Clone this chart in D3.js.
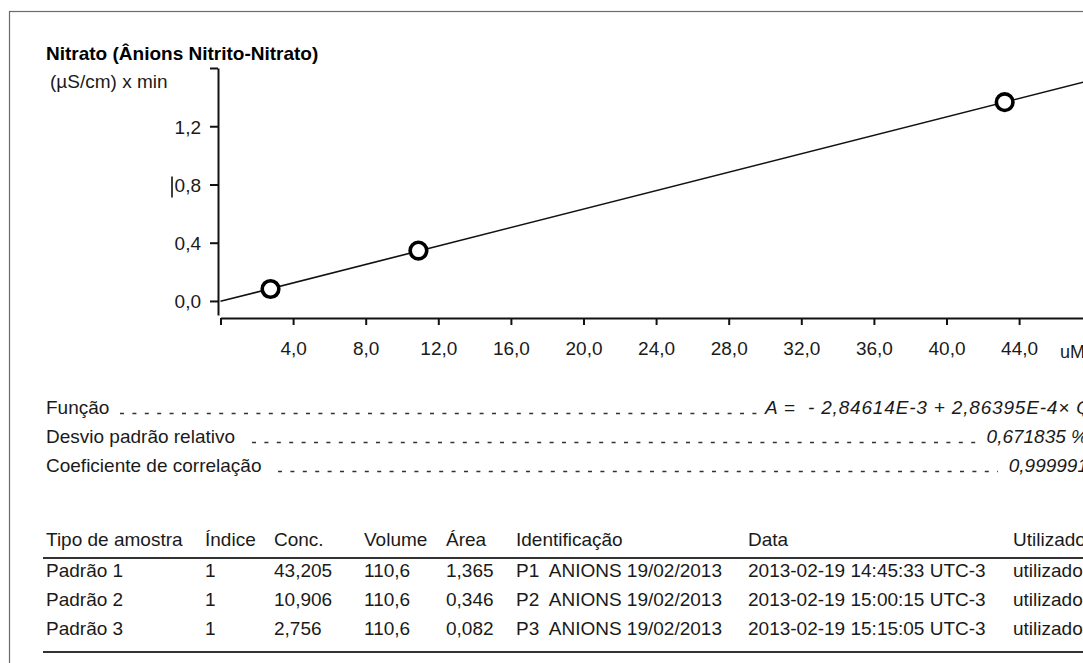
<!DOCTYPE html>
<html>
<head>
<meta charset="utf-8">
<script src="https://cdn.jsdelivr.net/npm/d3@7/dist/d3.min.js"></script>
<style>
  html, body { margin: 0; padding: 0; background: #fff; overflow: hidden; }
  svg { display: block; }
  text { font-family: "Liberation Sans", Arial, Helvetica, sans-serif; fill: #1a1a1a; white-space: pre; }
</style>
</head>
<body>
<svg id="chart" width="1083" height="663"></svg>
<script>
// Calibration standards for nitrate (concentration in uM, peak area in (µS/cm) x min)
const standards = ["Padrão 1", "Padrão 2", "Padrão 3"];
const sampleIndex = [1, 1, 1];
const concentration = [43.205, 10.906, 2.756];
const volume = [110.6, 110.6, 110.6];
const area = [1.365, 0.346, 0.082];
const identification = ["P1  ANIONS 19/02/2013", "P2  ANIONS 19/02/2013", "P3  ANIONS 19/02/2013"];
const timestamps = ["2013-02-19 14:45:33 UTC-3", "2013-02-19 15:00:15 UTC-3", "2013-02-19 15:15:05 UTC-3"];
const usage = ["utilizado", "utilizado", "utilizado"];
const tableHeaders = ["Tipo de amostra", "Índice", "Conc.", "Volume", "Área", "Identificação", "Data", "Utilizado"];

// Axis ticks
const xTicks = [0, 4, 8, 12, 16, 20, 24, 28, 32, 36, 40, 44, 48];
const xTickLabels = ["", "4,0", "8,0", "12,0", "16,0", "20,0", "24,0", "28,0", "32,0", "36,0", "40,0", "44,0", ""];
const yTicks = [0, 0.4, 0.8, 1.2, 1.6];
const yTickLabels = ["0,0", "0,4", "0,8", "1,2", ""];

// Calibration summary
const statLabels = ["Função", "Desvio padrão relativo", "Coeficiente de correlação"];
const statValues = ["A =  - 2,84614E-3 + 2,86395E-4× Q", "0,671835 %", "0,999991"];

const title = "Nitrato (Ânions Nitrito-Nitrato)";
const yUnit = "(µS/cm) x min";
const xUnit = "uM";

const FS = 19;
const svg = d3.select("#chart");

// outer frame
svg.append("rect")
  .attr("x", 9.5).attr("y", 11.5).attr("width", 1200).attr("height", 800)
  .attr("fill", "none").attr("stroke", "#6a6a6a").attr("stroke-width", 1.2);

// scales
const x = d3.scaleLinear().domain([0, 48]).range([220.5, 220.5 + 48 * 18.15]);
const y = d3.scaleLinear().domain([-0.0965, 1.6]).range([315, 68]);

// titles
svg.append("text").attr("x", 46).attr("y", 60)
  .style("font-size", FS + "px").style("font-weight", "bold").style("fill", "#000")
  .text(title);
svg.append("text").attr("x", 50).attr("y", 88)
  .style("font-size", FS + "px").text(yUnit);

// y axis
const yAxis = svg.append("g").attr("transform", "translate(218,0)")
  .call(d3.axisLeft(y).tickValues(yTicks).tickFormat((d, i) => yTickLabels[i])
    .tickSize(8).tickSizeOuter(0));
yAxis.select(".domain").attr("stroke", "#111").attr("stroke-width", 2);
yAxis.selectAll(".tick line").attr("stroke", "#111").attr("stroke-width", 2);
yAxis.selectAll(".tick text")
  .attr("x", -17).attr("dy", "0.36em")
  .attr("font-family", null).attr("font-size", null)
  .style("font-size", FS + "px").style("fill", "#1a1a1a");

// text caret beside the 0,8 label
svg.append("line")
  .attr("x1", 172).attr("x2", 172)
  .attr("y1", y(0.8) - 8).attr("y2", y(0.8) + 13)
  .attr("stroke", "#000").attr("stroke-width", 1.5);

// x axis
const xAxis = svg.append("g").attr("transform", "translate(0,318)")
  .call(d3.axisBottom(x).tickValues(xTicks).tickFormat((d, i) => xTickLabels[i])
    .tickSize(7).tickSizeOuter(0));
xAxis.select(".domain").attr("stroke", "#111").attr("stroke-width", 2);
xAxis.selectAll(".tick line").attr("stroke", "#111").attr("stroke-width", 2);
xAxis.selectAll(".tick text")
  .attr("y", 37).attr("dy", 0)
  .attr("font-family", null).attr("font-size", null)
  .style("font-size", FS + "px").style("fill", "#1a1a1a");

svg.append("text").attr("x", 1060).attr("y", 358)
  .style("font-size", (FS - 1) + "px").text(xUnit);

// least-squares calibration line through the standards
const mx = d3.mean(concentration), my = d3.mean(area);
const slope = d3.sum(concentration, (c, i) => (c - mx) * (area[i] - my)) /
              d3.sum(concentration, c => (c - mx) * (c - mx));
const intercept = my - slope * mx;
const lineX = [0, 48];
svg.append("path")
  .datum(lineX)
  .attr("d", d3.line().x(q => x(q)).y(q => y(intercept + slope * q)))
  .attr("fill", "none").attr("stroke", "#111").attr("stroke-width", 1.6);

// standard points
svg.selectAll("circle.std")
  .data(concentration)
  .join("circle")
  .attr("class", "std")
  .attr("cx", c => x(c))
  .attr("cy", (c, i) => y(area[i]))
  .attr("r", 8.3)
  .attr("fill", "#fff").attr("stroke", "#000").attr("stroke-width", 3.6);

// summary rows with dotted leaders
const statY = [414, 443, 472];
const leaderStart = [120, 252, 278];
const leaderEnd = [757, 978, 998];
statLabels.forEach((lab, i) => {
  svg.append("text").attr("x", 46).attr("y", statY[i])
    .style("font-size", FS + "px").text(lab);
  svg.append("line")
    .attr("x1", leaderStart[i]).attr("x2", leaderEnd[i])
    .attr("y1", statY[i] - 0.5).attr("y2", statY[i] - 0.5)
    .attr("stroke", "#333").attr("stroke-width", 1.4)
    .attr("stroke-dasharray", "4 8.4");
  const t = svg.append("text").attr("y", statY[i])
    .style("font-size", FS + "px").style("font-style", "italic")
    .text(statValues[i]);
  if (i === 0) t.attr("x", 765).attr("textLength", 326).attr("lengthAdjust", "spacing");
  else t.attr("x", 1088).attr("text-anchor", "end");
});

// table of standards
const fmt = d3.formatLocale({ decimal: ",", thousands: ".", grouping: [3], currency: ["", ""] });
const f3 = fmt.format(".3f"), f1 = fmt.format(".1f");
const colX = [46, 205, 274, 364, 446, 516, 748, 1013];
const headerY = 546;
const rowY = [577, 606, 635];

svg.selectAll("text.hdr")
  .data(tableHeaders)
  .join("text")
  .attr("class", "hdr")
  .attr("x", (d, i) => colX[i]).attr("y", headerY)
  .style("font-size", FS + "px")
  .text(d => d);

svg.append("line").attr("x1", 43).attr("x2", 1090).attr("y1", 558).attr("y2", 558)
  .attr("stroke", "#333").attr("stroke-width", 2);
svg.append("line").attr("x1", 43).attr("x2", 1090).attr("y1", 652).attr("y2", 652)
  .attr("stroke", "#333").attr("stroke-width", 2);

const rows = standards.map((s, i) => [
  s, String(sampleIndex[i]), f3(concentration[i]), f1(volume[i]), f3(area[i]),
  identification[i], timestamps[i], usage[i]
]);
rows.forEach((cells, r) => {
  svg.selectAll(null)
    .data(cells)
    .join("text")
    .attr("x", (d, i) => colX[i]).attr("y", rowY[r])
    .style("font-size", FS + "px")
    .text(d => d);
});
</script>
</body>
</html>
